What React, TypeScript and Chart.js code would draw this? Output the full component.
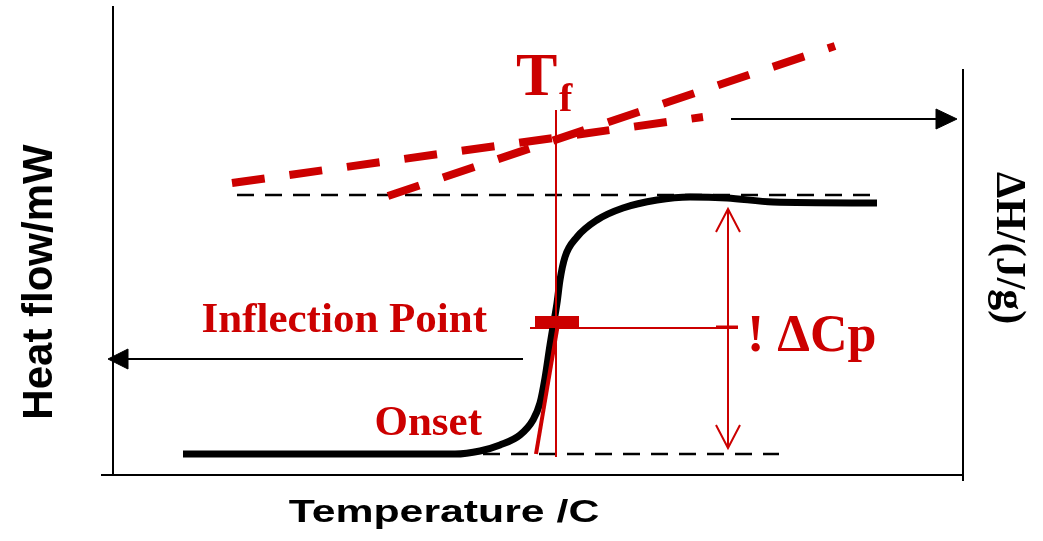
import React, { useEffect, useRef } from 'react';
import { Chart, registerables } from 'chart.js';

Chart.register(...registerables);

// ---- Data (arbitrary temperature / heat-flow units read from the schematic) ----
// DSC trace through the glass transition
const curveT = [70, 342, 367, 387, 407, 420, 427, 432, 437, 440, 444, 447, 452, 464, 484, 510, 544, 577, 614, 660, 764];
const curveH = [21, 21, 24, 30, 40, 55, 72, 97, 130, 148, 172, 195, 218, 238, 255, 267, 275, 278, 277, 273, 272];

// extrapolated baselines (black dashed)
const upperBaseT = [124, 764];
const upperBaseH = [280, 280];
const lowerBaseT = [342, 666];
const lowerBaseH = [21, 21];

// enthalpy lines (red dashed)
const enthalpyAT = [275, 722];
const enthalpyAH = [279, 429];
const enthalpyBT = [119, 590];
const enthalpyBH = [292, 358];

// inflection tangent, marker and level
const tangentT = [423, 446];
const tangentH = [21, 157];
const markerT = [422, 466];
const markerH = [153, 153];
const levelT = [417, 625];
const levelH = [147, 147];
const tickT = [603, 625];
const tickH = [148, 148];

// fictive temperature line
const tfT = [443, 443];
const tfH = [18, 365];

// ΔCp double arrow
const dcpT = [615, 615];
const dcpH = [27, 266];
const dcpTopHeadT = [603, 615, 627];
const dcpTopHeadH = [243, 266, 243];
const dcpBotHeadT = [603, 615, 627];
const dcpBotHeadH = [50, 27, 50];

// axis-pointing arrows
const leftArrowT = [410, 10];
const leftArrowH = [116, 116];
const leftHeadT = [15, -5, 15, 15];
const leftHeadH = [126, 116, 106, 126];
const rightArrowT = [618, 828];
const rightArrowH = [356, 356];
const rightHeadT = [823, 844, 823, 823];
const rightHeadH = [366, 356, 346, 366];

// frame
const leftAxisT = [0, 0];
const leftAxisH = [0, 469];
const bottomAxisT = [-12, 850];
const bottomAxisH = [0, 0];
const rightAxisT = [850, 850];
const rightAxisH = [-6, 406];

// text
const labelTexts = {
  T: 'T',
  f: 'f',
  inflection: 'Inflection Point',
  onset: 'Onset',
  dcp: '! \u0394Cp',
  yTitle: 'Heat flow/mW',
  xTitle: 'Temperature /C',
  y2Title: '\u0394H/(J/g)',
};

const RED = '#cc0000';
const BLACK = '#000000';
const SERIF = "'Liberation Serif', 'Times New Roman', serif";
const SANS = "'Liberation Sans', Arial, sans-serif";

const pts = (t: number[], h: number[]) => t.map((v, i) => ({ x: v, y: h[i] }));

const annotations = [
  { text: labelTexts.T, t: 403, h: 380, font: `bold 62px ${SERIF}`, color: RED, align: 'left', rotate: 0, scaleX: 1 },
  { text: labelTexts.f, t: 446, h: 364, font: `bold 40px ${SERIF}`, color: RED, align: 'left', rotate: 0, scaleX: 1 },
  { text: labelTexts.inflection, t: 374, h: 143, font: `bold 43px ${SERIF}`, color: RED, align: 'right', rotate: 0, scaleX: 1 },
  { text: labelTexts.onset, t: 369, h: 40, font: `bold 43px ${SERIF}`, color: RED, align: 'right', rotate: 0, scaleX: 1 },
  { text: labelTexts.dcp, t: 634, h: 124, font: `bold 52px ${SERIF}`, color: RED, align: 'left', rotate: 0, scaleX: 1 },
  { text: labelTexts.yTitle, t: -61, h: 193, font: `bold 42px ${SANS}`, color: BLACK, align: 'center', rotate: -Math.PI / 2, scaleX: 1 },
  { text: labelTexts.xTitle, t: 331, h: -47, font: `bold 31px ${SANS}`, color: BLACK, align: 'center', rotate: 0, scaleX: 1.38 },
  { text: labelTexts.y2Title, t: 884, h: 303, font: `bold 42px ${SERIF}`, color: BLACK, align: 'left', rotate: Math.PI / 2, scaleX: 1 },
];

const labelPlugin = {
  id: 'schematicLabels',
  afterDatasetsDraw(chart: any) {
    const { ctx, scales } = chart;
    const xs = scales.x;
    const ys = scales.y;
    for (const a of annotations) {
      ctx.save();
      ctx.translate(xs.getPixelForValue(a.t), ys.getPixelForValue(a.h));
      if (a.rotate) ctx.rotate(a.rotate);
      if (a.scaleX !== 1) ctx.scale(a.scaleX, 1);
      ctx.font = a.font;
      ctx.fillStyle = a.color;
      ctx.textAlign = a.align;
      ctx.textBaseline = 'alphabetic';
      ctx.fillText(a.text, 0, 0);
      ctx.restore();
    }
  },
};

export default function App() {
  const ref = useRef<HTMLCanvasElement | null>(null);

  useEffect(() => {
    if (!ref.current) return;
    const line = (t: number[], h: number[], color: string, width: number, extra: any = {}) => ({
      data: pts(t, h),
      showLine: true,
      borderColor: color,
      backgroundColor: color,
      borderWidth: width,
      pointRadius: 0,
      pointHoverRadius: 0,
      fill: false,
      tension: 0,
      borderCapStyle: 'butt',
      borderJoinStyle: 'miter',
      ...extra,
    });

    // listed bottom -> top
    const layers = [
      line(leftAxisT, leftAxisH, BLACK, 2),
      line(bottomAxisT, bottomAxisH, BLACK, 2),
      line(rightAxisT, rightAxisH, BLACK, 2),
      line(upperBaseT, upperBaseH, BLACK, 2.5, { borderDash: [17, 11] }),
      line(lowerBaseT, lowerBaseH, BLACK, 2.5, { borderDash: [17, 11] }),
      line(enthalpyBT, enthalpyBH, RED, 8, { borderDash: [33, 25] }),
      line(enthalpyAT, enthalpyAH, RED, 8, { borderDash: [33, 25] }),
      line(leftArrowT, leftArrowH, BLACK, 2),
      line(leftHeadT, leftHeadH, BLACK, 1, { fill: 'shape' }),
      line(rightArrowT, rightArrowH, BLACK, 2),
      line(rightHeadT, rightHeadH, BLACK, 1, { fill: 'shape' }),
      line(dcpT, dcpH, RED, 2),
      line(dcpTopHeadT, dcpTopHeadH, RED, 2),
      line(dcpBotHeadT, dcpBotHeadH, RED, 2),
      line(levelT, levelH, RED, 2),
      line(tickT, tickH, RED, 3),
      line(curveT, curveH, BLACK, 7, { cubicInterpolationMode: 'monotone', borderJoinStyle: 'round' }),
      line(tfT, tfH, RED, 2),
      line(tangentT, tangentH, RED, 4),
      line(markerT, markerH, RED, 12),
    ];
    const n = layers.length;
    const datasets = layers.map((d, i) => ({ ...d, order: n - i }));

    const chart = new Chart(ref.current, {
      type: 'scatter',
      data: { datasets },
      plugins: [labelPlugin],
      options: {
        animation: false,
        responsive: false,
        devicePixelRatio: 1,
        layout: { padding: 0 },
        plugins: {
          legend: { display: false },
          tooltip: { enabled: false },
          title: { display: false },
        },
        events: [],
        scales: {
          x: { type: 'linear', min: -113, max: 930, display: false },
          y: { type: 'linear', min: -66, max: 475, display: false },
        },
      },
    } as any);
    return () => chart.destroy();
  }, []);

  return (
    <div style={{ position: 'absolute', left: 0, top: 0, width: 1043, height: 541, background: '#fff' }}>
      <canvas ref={ref} width={1043} height={541} style={{ display: 'block', width: 1043, height: 541 }} />
    </div>
  );
}
